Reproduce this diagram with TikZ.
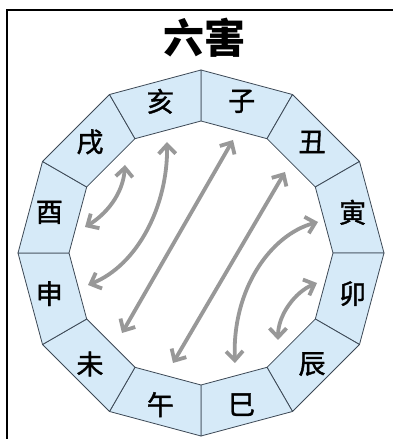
\documentclass[tikz,border=0pt]{standalone}
\usepackage{fontspec}
\newfontfamily\cjk{Noto Sans CJK SC}
\newfontfamily\cjkm[FakeBold=1.4]{Noto Sans CJK SC}
\usetikzlibrary{calc,arrows.meta}
\definecolor{segblue}{RGB}{214,234,248}
\definecolor{edgegray}{RGB}{60,72,85}
\definecolor{arrowgray}{RGB}{152,152,152}
\begin{document}
\begin{tikzpicture}[x=1pt,y=1pt,
  seg/.style={fill=segblue,draw=edgegray,line width=0.8pt,line join=round},
  lbl/.style={font=\cjkm\fontsize{27}{27}\selectfont,text=black,inner sep=0pt},
  pair/.style={draw=arrowgray,line width=3.8pt,
    {Straight Barb[length=9pt,width=17pt]}-{Straight Barb[length=9pt,width=17pt]}},
  ]
\useasboundingbox (0,0) rectangle (393,439);
\fill[white] (0,0) rectangle (393,439);
\draw[line width=2pt] (7,0) -- (7,429) -- (393,429);
\coordinate (C) at (201,186);
\foreach \k in {0,...,11}{
  \pgfmathsetmacro\a{90-30*\k}
  \pgfmathsetmacro\b{60-30*\k}
  \draw[seg] ($(C)+(\a:183)$) -- ($(C)+(\b:183)$) -- ($(C)+(\b:132)$) -- ($(C)+(\a:132)$) -- cycle;
}
\node[font=\cjk\bfseries\fontsize{41}{41}\selectfont,inner sep=0pt] (title) at (204,401) {六害};
\node[lbl] (zi)   at ($(C)+(75:157)$)   {子};
\node[lbl] (chou) at ($(C)+(45:157)$)   {丑};
\node[lbl] (yin)  at ($(C)+(15:157)$)   {寅};
\node[lbl] (mao)  at ($(C)+(-15:157)$)  {卯};
\node[lbl] (chen) at ($(C)+(-45:157)$)  {辰};
\node[lbl] (si)   at ($(C)+(-75:157)$)  {巳};
\node[lbl] (wu)   at ($(C)+(-105:157)$) {午};
\node[lbl] (wei)  at ($(C)+(-135:157)$) {未};
\node[lbl] (shen) at ($(C)+(-165:157)$) {申};
\node[lbl] (you)  at ($(C)+(165:157)$)  {酉};
\node[lbl] (xu)   at ($(C)+(135:157)$)  {戌};
\node[lbl] (hai)  at ($(C)+(105:157)$)  {亥};
% arrow end points
\coordinate (xuE)   at (125,274);
\coordinate (youE)  at (85,212);
\coordinate (haiE)  at (167,297);
\coordinate (shenE) at (88,154);
\coordinate (ziE)   at (233,299);
\coordinate (weiE)  at (122,106);
\coordinate (chouE) at (285,267);
\coordinate (wuE)   at (173,76);
\coordinate (yinE)  at (318,217);
\coordinate (siE)   at (235,76);
\coordinate (maoE)  at (317,156);
\coordinate (chenE) at (278,99);
\draw[pair] (xuE) .. controls (123,244) and (105,224) .. (youE);
\draw[pair] (haiE) .. controls (168,234) and (138,174) .. (shenE);
\draw[pair] (ziE) -- (weiE);
\draw[pair] (chouE) -- (wuE);
\draw[pair] (yinE) .. controls (270,204) and (232,149) .. (siE);
\draw[pair] (maoE) .. controls (295,147) and (278,124) .. (chenE);
\end{tikzpicture}
\end{document}
